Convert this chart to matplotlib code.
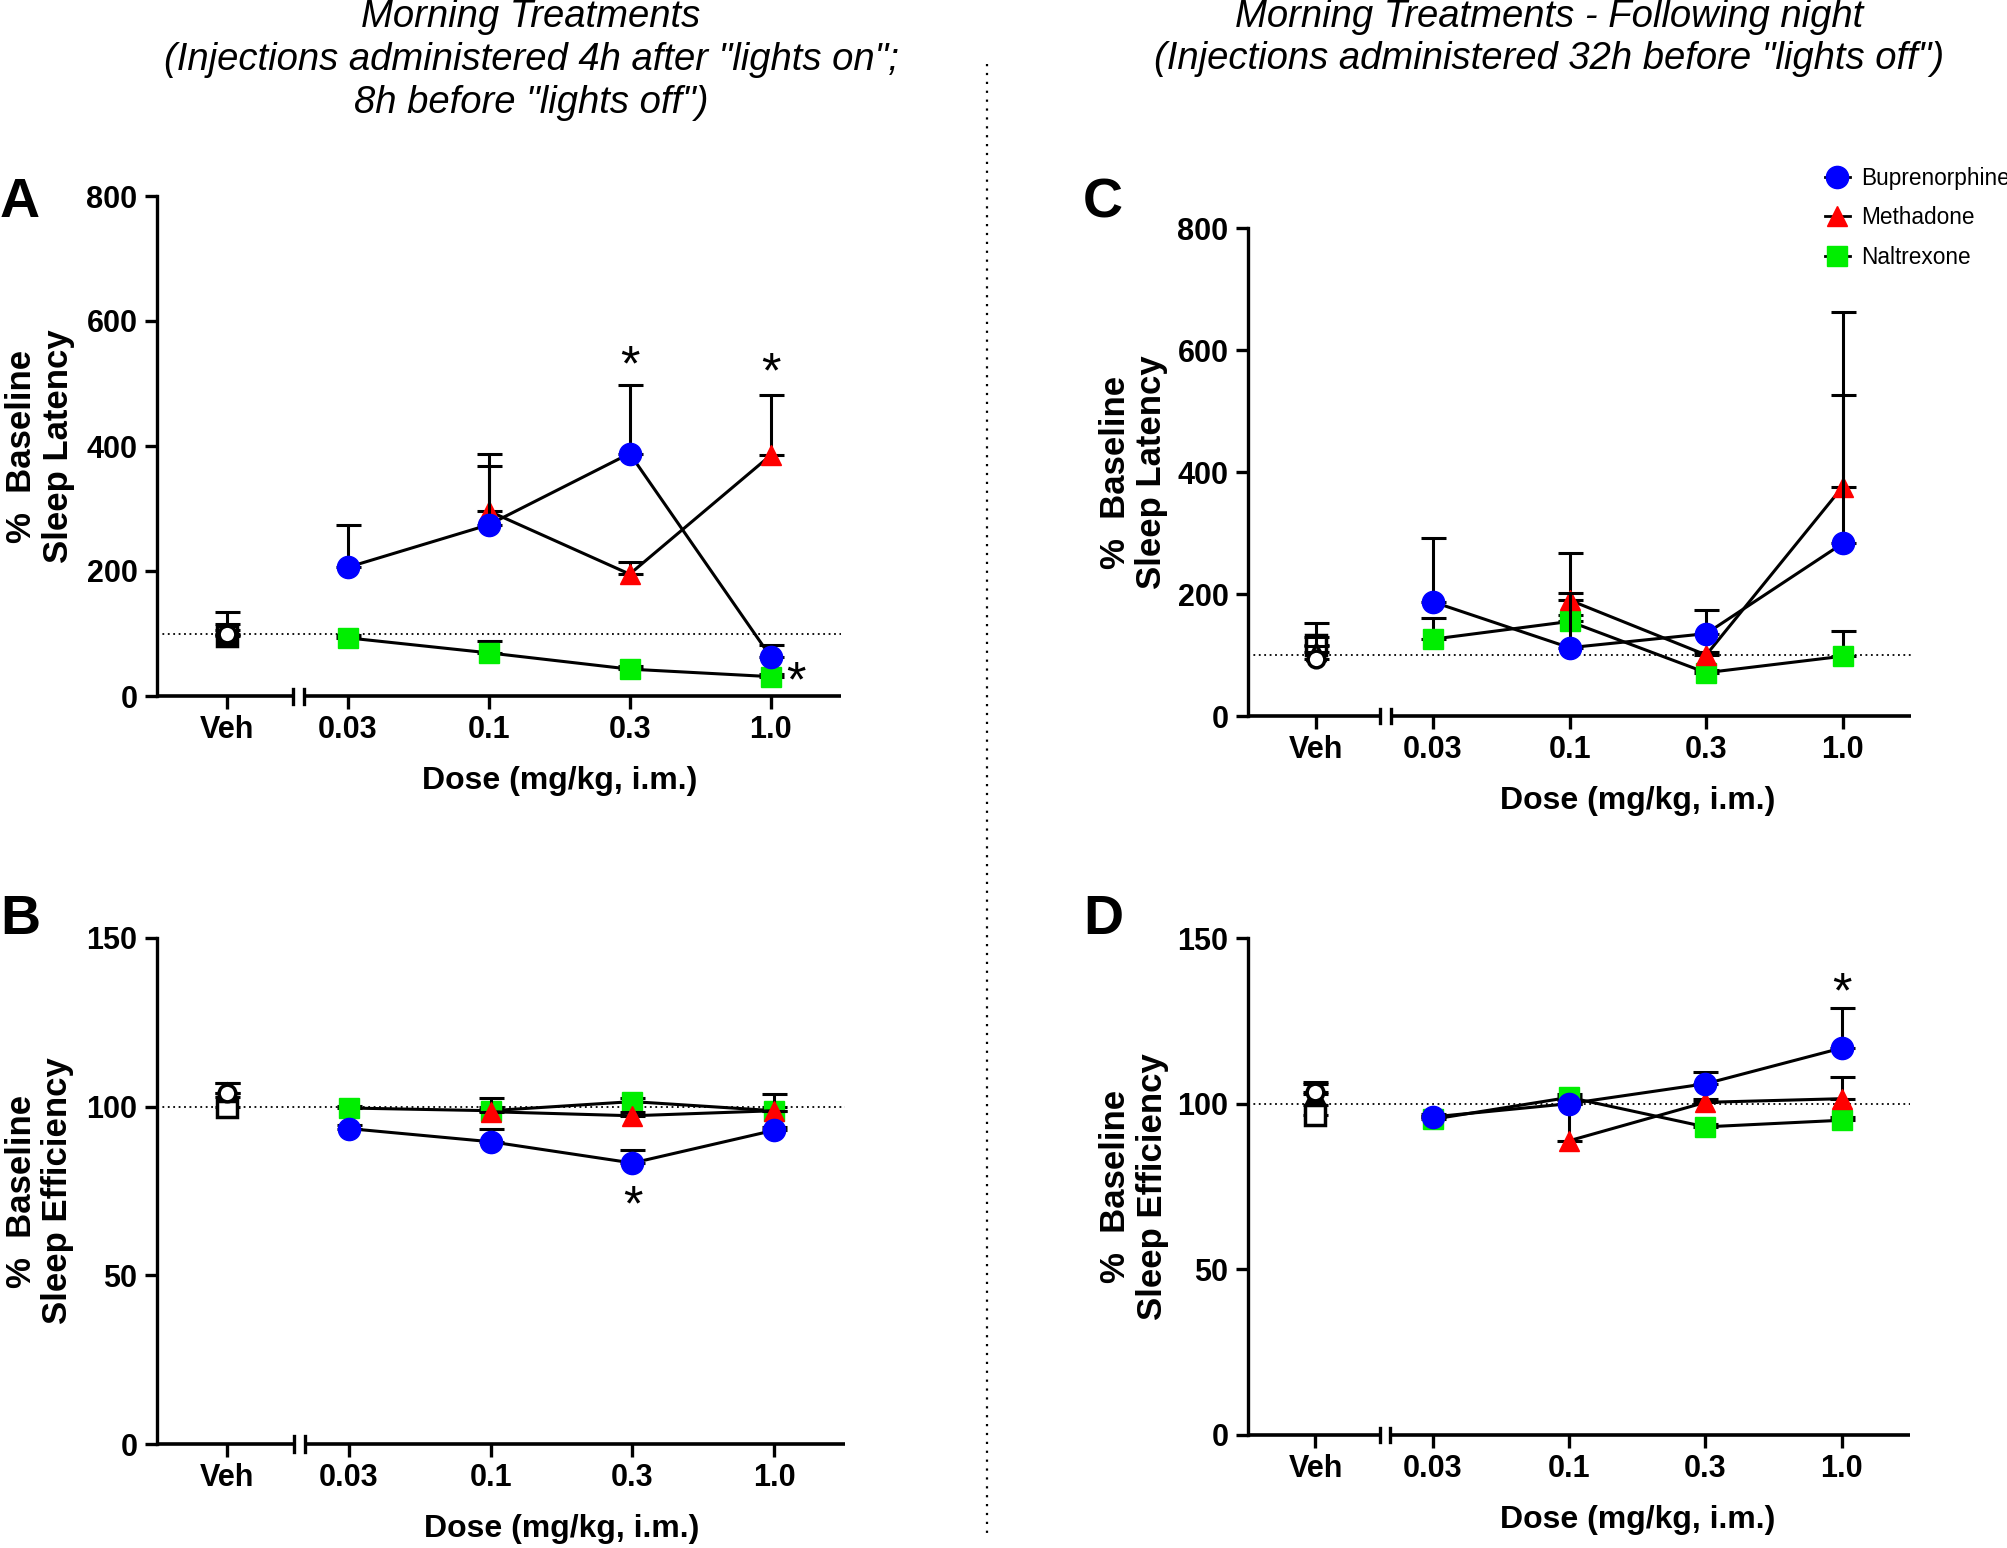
import numpy as np
import matplotlib.pyplot as plt
from matplotlib.lines import Line2D
from matplotlib.transforms import blended_transform_factory
from matplotlib import font_manager

nan = np.nan

# categories
dose_labels = ['Veh', '0.03', '0.1', '0.3', '1.0']
veh_x = -0.86
dose_x = [0, 1, 2, 3]

# drug order: buprenorphine, methadone, naltrexone
drugs = ['Buprenorphine', 'Methadone', 'Naltrexone']
colors = ['#0000ff', '#ff0000', '#00ee00']
markers = ['o', '^', 's']
veh_markers = ['o', '^', 's']

# Panel A - sleep latency, morning
a_veh = [100, 98, 96]
a_veh_err = [35, 18, 10]
a_bup = [206, 274, 388, 63]
a_bup_err = [67, 94, 110, 18]
a_met = [nan, 296, 195, 385]
a_met_err = [nan, 91, 20, 96]
a_nal = [93, 69, 43, 31]
a_nal_err = [4, 19, 5, 4]

# Panel B - sleep efficiency, morning
b_veh = [104, 104, 100]
b_veh_err = [3, 3, 3]
b_bup = [93.5, 89.6, 83.3, 93]
b_bup_err = [1, 3.9, 4, 1]
b_met = [nan, 98.5, 97.3, 98.8]
b_met_err = [nan, 4, 1, 5]
b_nal = [99.6, 98.8, 101.5, 98.8]
b_nal_err = [0.5, 1, 1, 1]

# Panel C - sleep latency, following night
c_veh = [93, 105, 116]
c_veh_err = [37, 10, 36]
c_bup = [187, 112, 135, 283]
c_bup_err = [105, 89, 39, 243]
c_met = [nan, 190, 100, 376]
c_met_err = [nan, 78, 5, 286]
c_nal = [126, 155, 71, 98]
c_nal_err = [34, 10, 4, 41]

# Panel D - sleep efficiency, following night
d_veh = [103.5, 103, 96.5]
d_veh_err = [3, 3, 3]
d_bup = [96, 100, 106, 116.8]
d_bup_err = [1, 1, 3.7, 12.1]
d_met = [nan, 88.8, 100.4, 101.5]
d_met_err = [nan, 11, 1, 6.5]
d_nal = [95.3, 101.9, 93, 95]
d_nal_err = [1, 1, 1, 1]

# significance stars: (dose index, y, x offset)
a_stars = [(2, 525, 0), (3, 515, 0), (3, 20, 0.18)]
b_stars = [(2, 70, 0)]
c_stars = []
d_stars = [(3, 133, 0)]

names = {f.name for f in font_manager.fontManager.ttflist}
narrow = 'Liberation Sans Narrow' if 'Liberation Sans Narrow' in names else 'Liberation Sans'
plt.rcParams['font.family'] = ['Liberation Sans', 'DejaVu Sans']

W, H = 2007, 1548
fig = plt.figure(figsize=(W / 100, H / 100), dpi=100)

xlim = (-1.355, 3.5)


def panel(rect, veh, veh_err, series, errs, ylim, yticks, ylabel, stars):
    ax = fig.add_axes(rect)
    ax.set_xlim(*xlim)
    ax.set_ylim(*ylim)
    for i in range(3):
        z = [5, 4, 3][i]
        ax.errorbar(dose_x, series[i], yerr=[np.zeros(4), errs[i]], fmt='-',
                    color='black', lw=2.2, marker=markers[i],
                    mfc=colors[i], mec=colors[i], ms=16 if i == 0 else 15,
                    capsize=9, capthick=2.2, elinewidth=2.2, zorder=z)
        ax.errorbar([veh_x], [veh[i]], yerr=[[0], [veh_err[i]]], fmt='none',
                    ecolor='black', capsize=9, capthick=2.2, elinewidth=2.2, zorder=z)
        ax.plot([veh_x], [veh[i]], marker=veh_markers[i], ls='none', mfc='white',
                mec='black', mew=2.5, ms=12 if i != 2 else 14, zorder=z + 1 if i != 2 else z)
    ax.axhline(100, ls=(0, (1, 2)), color='black', lw=1.3, zorder=1)
    for xi, y, dx in stars:
        ax.text(dose_x[xi] + dx, y, '*', ha='center', va='center', fontsize=36)
    ax.spines['top'].set_visible(False)
    ax.spines['right'].set_visible(False)
    ax.spines['bottom'].set_visible(False)
    ax.spines['left'].set_linewidth(2.4)
    ax.set_xticks([veh_x] + dose_x)
    ax.set_xticklabels(dose_labels)
    ax.set_yticks(yticks)
    ax.tick_params(width=2.4, length=9, labelsize=22, pad=5)
    for lab in ax.get_xticklabels() + ax.get_yticklabels():
        lab.set_fontfamily(narrow)
        lab.set_fontweight('bold')
    # broken x axis
    tr = blended_transform_factory(ax.transData, ax.transAxes)
    ax.plot([xlim[0], -0.39], [0, 0], color='black', lw=2.6, transform=tr, clip_on=False,
            solid_capstyle='butt')
    ax.plot([-0.31, xlim[1]], [0, 0], color='black', lw=2.6, transform=tr, clip_on=False,
            solid_capstyle='butt')
    for bx in (-0.39, -0.31):
        ax.plot([bx, bx], [-0.015, 0.015], color='black', lw=2.4, transform=tr, clip_on=False)
    hpx = rect[3] * H
    ax.set_ylabel(ylabel, fontsize=25, fontweight='bold', linespacing=1.15)
    ax.yaxis.set_label_coords(-0.12, 0.5)
    ax.set_xlabel('Dose (mg/kg, i.m.)', fontsize=23, fontweight='bold', family=narrow)
    ax.xaxis.set_label_coords((1.5 - xlim[0]) / (xlim[1] - xlim[0]), -70 / hpx)
    return ax


lat = '%  Baseline\nSleep Latency'
eff = '%  Baseline\nSleep Efficiency'

axA = panel([157 / W, 1 - 696 / H, 684 / W, 500 / H], a_veh, a_veh_err,
            [a_bup, a_met, a_nal], [a_bup_err, a_met_err, a_nal_err],
            (0, 800), [0, 200, 400, 600, 800], lat, a_stars)
axB = panel([157 / W, 1 - 1444 / H, 688 / W, 506 / H], b_veh, b_veh_err,
            [b_bup, b_met, b_nal], [b_bup_err, b_met_err, b_nal_err],
            (0, 150), [0, 50, 100, 150], eff, b_stars)
axC = panel([1248 / W, 1 - 716 / H, 663 / W, 488 / H], c_veh, c_veh_err,
            [c_bup, c_met, c_nal], [c_bup_err, c_met_err, c_nal_err],
            (0, 800), [0, 200, 400, 600, 800], lat, c_stars)
axD = panel([1248 / W, 1 - 1435 / H, 662 / W, 497 / H], d_veh, d_veh_err,
            [d_bup, d_met, d_nal], [d_bup_err, d_met_err, d_nal_err],
            (0, 150), [0, 50, 100, 150], eff, d_stars)

# panel letters
for lab, x, y in [('A', 20, 203), ('B', 20, 920), ('C', 1103, 203), ('D', 1103, 920)]:
    fig.text(x / W, 1 - y / H, lab, fontsize=40, fontweight='bold', ha='center', va='center')

# titles
fig.text(531 / W, 1 - 60 / H,
         'Morning Treatments\n(Injections administered 4h after "lights on";\n8h before "lights off")',
         ha='center', va='center', fontsize=27.5, style='italic', linespacing=1.24)
fig.text(1549 / W, 1 - 38 / H,
         'Morning Treatments - Following night\n(Injections administered 32h before "lights off")',
         ha='center', va='center', fontsize=27.5, style='italic', linespacing=1.24)

# separator
fig.add_artist(Line2D([987 / W, 987 / W], [1 - 64 / H, 1 - 1536 / H], color='black',
                      ls=(0, (1, 3)), lw=1.6))

# legend
handles = [Line2D([], [], color='black', lw=2, marker=m, mfc=c, mec=c, ms=16 if m == 'o' else 15)
           for m, c in zip(markers, colors)]
fig.legend(handles, drugs, loc='upper left', bbox_to_anchor=(1825 / W, 1 - 167 / H),
           frameon=False, fontsize=16.3, handlelength=1.1, handletextpad=0.5,
           labelspacing=0.72, borderaxespad=0, borderpad=0)

fig.savefig('out.png', dpi=100)
